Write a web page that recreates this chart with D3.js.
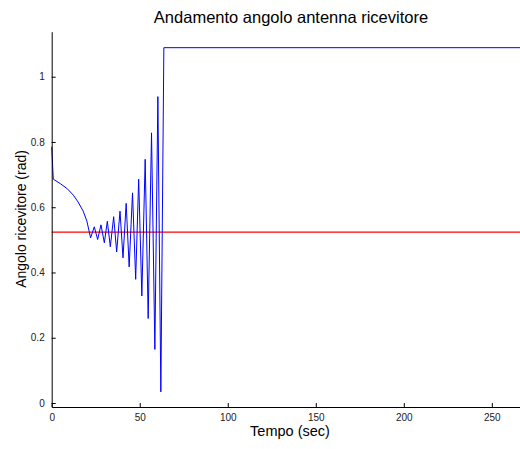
<!DOCTYPE html>
<html>
<head>
<meta charset="utf-8">
<script src="https://cdn.jsdelivr.net/npm/d3@7"></script>
<style>
  body { margin: 0; background: #fff; }
  svg { display: block; font-family: "Liberation Sans", Arial, sans-serif; }
  .tick text { font-size: 10px; fill: #222; }
</style>
</head>
<body>
<div id="chart"></div>
<script>
// time (sec) and receiver angle (rad)
const tempo = [0, 0.9, 5, 9, 12.3, 15, 17.9, 20, 22.1,
  24.2, 26.1, 28.0, 29.9, 31.6, 33.3, 35.2, 36.9, 38.8, 40.5, 42.3, 44.0,
  45.9, 47.7, 49.4, 51.2, 53.1, 54.8, 56.7, 58.6, 60.3, 62.0, 63.7, 266];
const angolo = [0.785, 0.686, 0.672, 0.656, 0.637, 0.616, 0.588, 0.557, 0.506,
  0.540, 0.501, 0.546, 0.491, 0.557, 0.479, 0.571, 0.463, 0.588, 0.445, 0.612, 0.417,
  0.644, 0.379, 0.686, 0.328, 0.747, 0.259, 0.828, 0.164, 0.939, 0.034, 1.089, 1.089];
const riferimento = 0.5236;
const xTicks = [0, 50, 100, 150, 200, 250];
const yTicks = [0, 0.2, 0.4, 0.6, 0.8, 1];

const width = 520, height = 449;
const margin = { top: 31.7, right: 0, bottom: 42, left: 51.7 };

const svg = d3.select("#chart")
  .append("svg")
  .attr("width", width)
  .attr("height", height);

const x = d3.scaleLinear()
  .domain([0, 266])
  .range([margin.left, width - margin.right]);

const y = d3.scaleLinear()
  .domain([-0.0123, 1.138])
  .range([height - margin.bottom, margin.top]);

// reference line
svg.append("line")
  .attr("x1", x(0))
  .attr("x2", x(266))
  .attr("y1", y(riferimento))
  .attr("y2", y(riferimento))
  .attr("stroke", "#ff0000")
  .attr("stroke-width", 1.3);

const line = d3.line()
  .x((d, i) => x(tempo[i]))
  .y(d => y(d));

svg.append("path")
  .datum(angolo)
  .attr("fill", "none")
  .attr("stroke", "#0000ff")
  .attr("stroke-width", 1)
  .attr("d", line);

// axes, ticks pointing inward like matlab
svg.append("g")
  .attr("transform", `translate(0,${height - margin.bottom})`)
  .call(d3.axisBottom(x).tickValues(xTicks).tickSizeInner(-4).tickSizeOuter(0).tickPadding(7))
  .call(g => g.select(".domain").attr("stroke", "#000"));

svg.append("g")
  .attr("transform", `translate(${margin.left},0)`)
  .call(d3.axisLeft(y).tickValues(yTicks).tickSizeInner(-4).tickSizeOuter(0).tickPadding(7)
    .tickFormat(d3.format("")))
  .call(g => g.select(".domain").attr("stroke", "#000"));

svg.append("text")
  .attr("x", 291)
  .attr("y", 22.5)
  .attr("text-anchor", "middle")
  .attr("font-size", 16.5)
  .text("Andamento angolo antenna ricevitore");

svg.append("text")
  .attr("x", 290)
  .attr("y", 435.5)
  .attr("text-anchor", "middle")
  .attr("font-size", 14.5)
  .text("Tempo (sec)");

svg.append("text")
  .attr("transform", "rotate(-90)")
  .attr("x", -219)
  .attr("y", 26)
  .attr("text-anchor", "middle")
  .attr("font-size", 14)
  .text("Angolo ricevitore (rad)");
</script>
</body>
</html>
